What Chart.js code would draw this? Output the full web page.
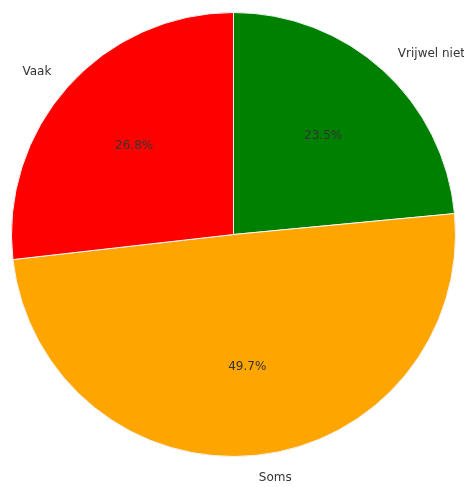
<!DOCTYPE html>
<html>
<head>
<meta charset="utf-8">
<script src="https://cdn.jsdelivr.net/npm/chart.js@4"></script>
<style>
  html, body { margin: 0; padding: 0; background: #fff; }
  #wrap { width: 464px; height: 487px; }
</style>
</head>
<body>
<div id="wrap"><canvas id="pie-chart"></canvas></div>
<script>
const categories = ['Vrijwel niet', 'Soms', 'Vaak']
const shares = [23.5, 49.7, 26.8]
const sliceColors = ['#008000', '#FFA500', '#FF0000']

// draws the category names outside and percentages inside, like matplotlib autopct
const pieLabels = {
    id: 'pieLabels',
    afterDatasetsDraw(chart) {
        const ctx = chart.ctx
        const arcs = chart.getDatasetMeta(0).data
        ctx.save()
        ctx.font = '12px "DejaVu Sans"'
        ctx.fillStyle = '#333'
        ctx.textBaseline = 'middle'
        arcs.forEach((arc, i) => {
            const { x, y, startAngle, endAngle, outerRadius } = arc.getProps(['x', 'y', 'startAngle', 'endAngle', 'outerRadius'], true)
            const mid = (startAngle + endAngle) / 2
            const cos = Math.cos(mid), sin = Math.sin(mid)

            // percentage at 0.6 r
            ctx.textAlign = 'center'
            ctx.fillText(shares[i].toFixed(1) + '%', x + cos * outerRadius * 0.6, y + sin * outerRadius * 0.6)

            // name at 1.1 r
            ctx.textAlign = Math.abs(cos) < 0.01 ? 'center' : (cos > 0 ? 'left' : 'right')
            ctx.fillText(categories[i], x + cos * outerRadius * 1.1, y + sin * outerRadius * 1.1)
        })
        ctx.restore()
    }
}

new Chart(document.getElementById('pie-chart'), {
    type: 'pie',
    data: {
        labels: categories,
        datasets: [{
            data: shares,
            backgroundColor: sliceColors,
            borderColor: '#f4f4f4',
            borderWidth: 1
        }]
    },
    options: {
        responsive: true,
        maintainAspectRatio: false,
        animation: false,
        devicePixelRatio: 1,
        layout: { padding: { left: 11, right: 8, top: 12, bottom: 30 } },
        plugins: {
            legend: { display: false },
            tooltip: { enabled: false }
        }
    },
    plugins: [pieLabels]
})
</script>
</body>
</html>
